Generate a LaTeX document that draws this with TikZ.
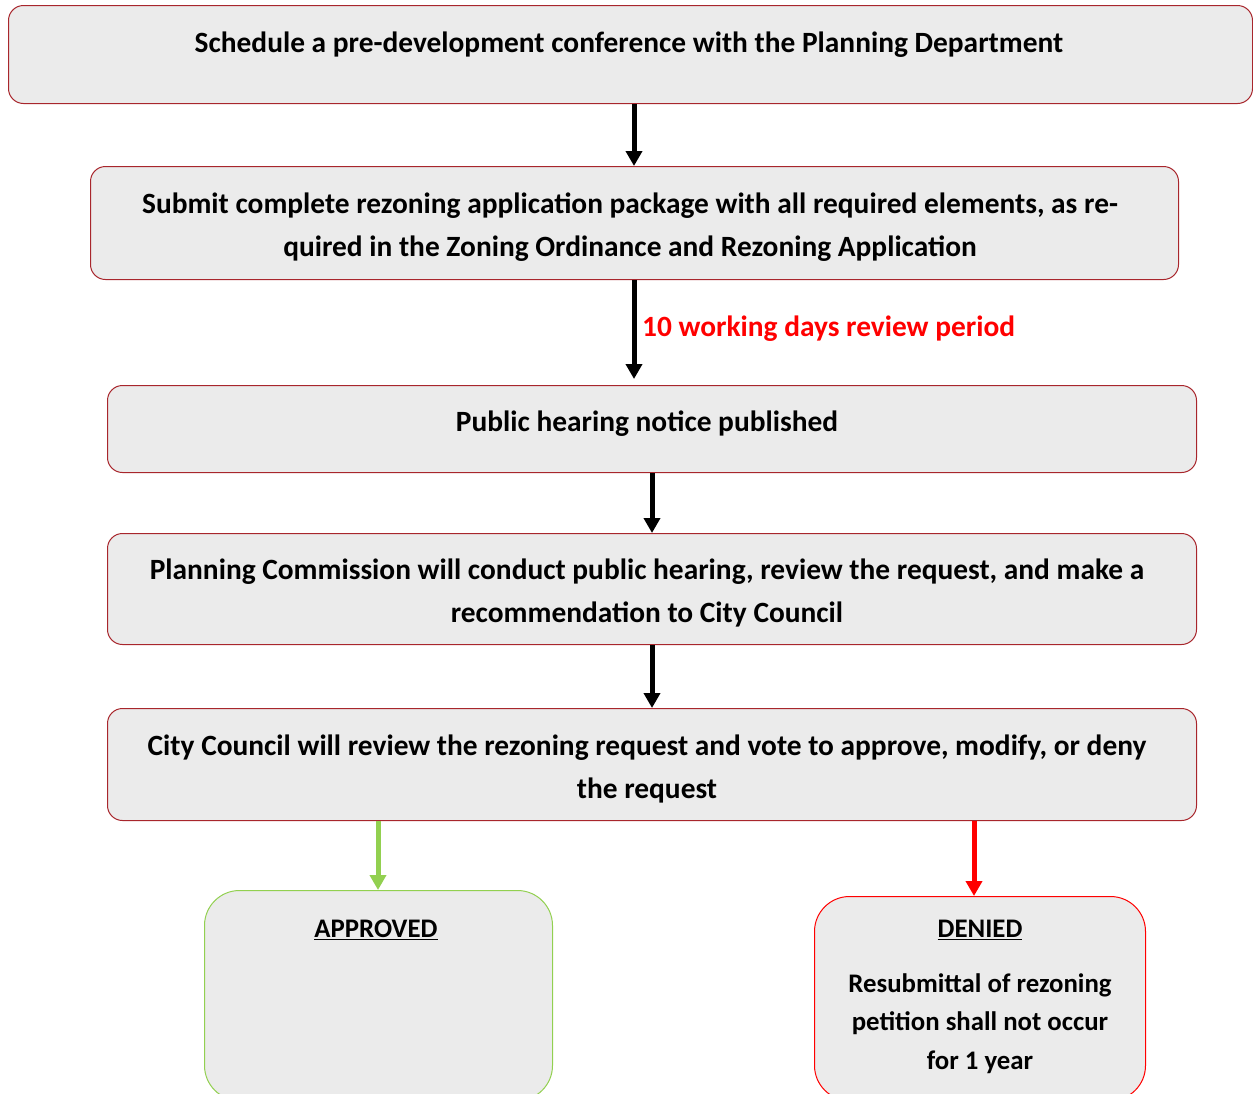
\documentclass[tikz,border=0pt]{standalone}
\usepackage{fontspec}
\setmainfont{Carlito}
\usetikzlibrary{arrows.meta}
\definecolor{boxfill}{HTML}{EBEBEB}
\definecolor{boxline}{HTML}{A8262C}
\definecolor{okgreen}{HTML}{92D050}
\definecolor{nored}{HTML}{FF0000}
\tikzset{
  stepbox/.style={draw=boxline, line width=1pt, fill=boxfill, rounded corners=15pt,
    inner sep=0pt, anchor=north west},
  outbox/.style={line width=1pt, fill=boxfill, rounded corners=35pt,
    inner sep=0pt, anchor=north west},
  boxtext/.style={font=\fontsize{29.4}{43}\selectfont\bfseries, align=center, inner sep=0pt},
  outtext/.style={font=\fontsize{26.8}{38.5}\selectfont\bfseries, align=center, inner sep=0pt},
  flow/.style={line width=5pt, -{Triangle[width=16pt,length=15pt]}},
}
\begin{document}
\begin{tikzpicture}[x=1pt,y=-1pt]
\useasboundingbox (0,0) rectangle (1253,1093);
\clip (0,0) rectangle (1253,1093);

% process steps
\node[stepbox, minimum width=1244pt, minimum height=98pt] (b1) at (8,5) {};
\node[stepbox, minimum width=1088pt, minimum height=113pt] (b2) at (90,166) {};
\node[stepbox, minimum width=1089pt, minimum height=87pt] (b3) at (107,385) {};
\node[stepbox, minimum width=1089pt, minimum height=111pt] (b4) at (107,533) {};
\node[stepbox, minimum width=1089pt, minimum height=112pt] (b5) at (107,708) {};

% outcomes (their lower edge sits just below the page)
\node[outbox, draw=okgreen, minimum width=348pt, minimum height=210pt] (ok) at (204,890) {};
\node[outbox, draw=nored, minimum width=331pt, minimum height=204pt] (no) at (814,896) {};

% step texts
\node[boxtext] (t1) at (629,45) {Schedule a pre-development conference with the Planning Department};
\node[boxtext] (t2) at (630,227.5) {Submit complete rezoning application package with all required elements, as re-\\quired in the Zoning Ordinance and Rezoning Application};
\node[boxtext] (t3) at (647,424) {Public hearing notice published};
\node[boxtext] (t4) at (647,593) {Planning Commission will conduct public hearing, review the request, and make a\\recommendation to City Council};
\node[boxtext] (t5) at (647,768.5) {City Council will review the rezoning request and vote to approve, modify, or deny\\the request};

% outcome texts
\node[outtext] (okt) at (376,930) {\underline{APPROVED}};
\node[outtext] (not) at (980,930) {\underline{DENIED}};
\node[outtext] (nod) at (980,1023.5) {Resubmittal of rezoning\\petition shall not occur\\for 1 year};

% connectors
\draw[flow] (b1.south -| 634,0) -- (b2.north -| 634,0);
\draw[flow] (b2.south -| 634,0) -- (634,379) coordinate (a2);
\draw[flow] (b3.south -| 652,0) -- (b4.north -| 652,0);
\draw[flow] (b4.south -| 652,0) -- (b5.north -| 652,0);
\draw[flow, draw=okgreen, fill=okgreen] (b5.south -| 378,0) -- (ok.north -| 378,0);
\draw[flow, draw=nored, fill=nored] (b5.south -| 974,0) -- (no.north -| 974,0);

\node[font=\fontsize{29.4}{34}\selectfont\bfseries, text=nored, anchor=west, inner sep=0pt] (rev) at (642,329) {10 working days review period};
\end{tikzpicture}
\end{document}
